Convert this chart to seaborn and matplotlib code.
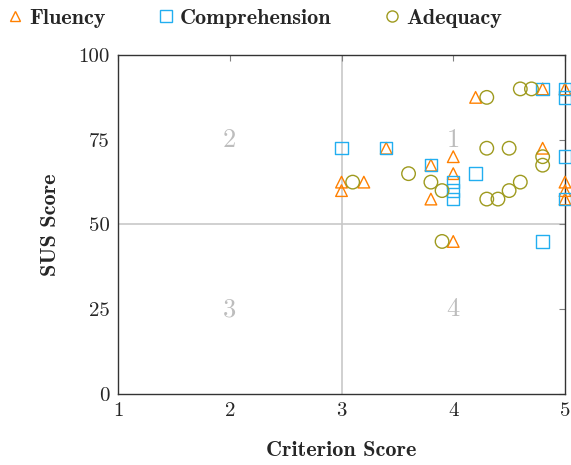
import matplotlib
matplotlib.use("Agg")
import matplotlib.pyplot as plt
from matplotlib.lines import Line2D
import seaborn as sns
import pandas as pd

# Criterion score vs SUS score, one series per criterion
fluency_x = [3.0, 3.0, 3.2, 3.4, 3.8, 3.8, 4.0, 4.0, 4.0, 4.2, 4.8, 4.8, 5.0, 5.0, 5.0, 5.0]
fluency_y = [62.5, 60, 62.5, 72.5, 67.5, 57.5, 70, 65, 45, 87.5, 90, 72.5, 90, 62.5, 60, 57.5]

comprehension_x = [3.0, 3.4, 3.8, 4.0, 4.0, 4.0, 4.2, 4.8, 4.8, 5.0, 5.0, 5.0, 5.0]
comprehension_y = [72.5, 72.5, 67.5, 62.5, 60, 57.5, 65, 90, 45, 90, 87.5, 70, 57.5]

adequacy_x = [3.1, 3.6, 3.8, 3.9, 3.9, 4.3, 4.6, 4.7, 4.3, 4.5, 4.8, 4.8, 4.3, 4.4, 4.5, 4.6]
adequacy_y = [62.5, 65, 62.5, 60, 45, 87.5, 90, 90, 72.5, 72.5, 70, 67.5, 57.5, 57.5, 60, 62.5]

series_names = ["Fluency", "Comprehension", "Adequacy"]
series_colors = ["#ff8000", "#22aef0", "#9e9a1e"]
series_markers = ["^", "s", "o"]

x_ticks = [1, 2, 3, 4, 5]
y_ticks = [0, 25, 50, 75, 100]
quadrants = [("1", 4, 75), ("2", 2, 75), ("3", 2, 25), ("4", 4, 25)]

sns.set_style("white")
plt.rcParams["font.family"] = ["cmr10", "DejaVu Serif"]
plt.rcParams["axes.formatter.use_mathtext"] = True
BOLD = ["cmb10", "DejaVu Serif"]

fig = plt.figure(figsize=(5.71, 4.65), dpi=100)
ax = fig.add_axes([118 / 571, 1 - 394 / 465, 447 / 571, 339 / 465])

# quadrant dividers
ax.axvline(3, color="#c8c8c8", lw=1.2, zorder=0)
ax.axhline(50, color="#c8c8c8", lw=1.2, zorder=0)
for label, qx, qy in quadrants:
    ax.text(qx, qy, label, color="#bdbdbd", fontsize=19, ha="center", va="center",
            family=["cmr10", "DejaVu Serif"], zorder=0)

frames = [
    pd.DataFrame({"x": fluency_x, "y": fluency_y}),
    pd.DataFrame({"x": comprehension_x, "y": comprehension_y}),
    pd.DataFrame({"x": adequacy_x, "y": adequacy_y}),
]
sizes = [70, 80, 95]
for df, name, col, mk, sz in zip(frames, series_names, series_colors, series_markers, sizes):
    sns.scatterplot(data=df, x="x", y="y", ax=ax, marker=mk, s=sz,
                    facecolors="none", edgecolor=col, linewidth=1.0,
                    clip_on=False, zorder=3, legend=False)

ax.set_xlim(1, 5)
ax.set_ylim(0, 100)
ax.set_xticks(x_ticks)
ax.set_yticks(y_ticks)
ax.set_xticklabels([str(v) for v in x_ticks])
ax.set_yticklabels([str(v) for v in y_ticks])
ax.tick_params(direction="in", length=4, width=0.8, color="#808080",
               top=True, right=True, labelsize=15, pad=6)
for s in ax.spines.values():
    s.set_visible(True)
    s.set_color("#333333")
    s.set_linewidth(1.0)

ax.set_xlabel("Criterion Score", family=BOLD, fontsize=16, labelpad=15)
ax.set_ylabel("SUS Score", family=BOLD, fontsize=16, labelpad=13)

handles = [Line2D([], [], linestyle="none", marker=m, markerfacecolor="none",
                  markeredgecolor=c, markersize=ms, markeredgewidth=1.0)
           for m, c, ms in zip(series_markers, series_colors, [7, 8, 8])]
leg = fig.legend(handles, series_names, loc="center", bbox_to_anchor=(254 / 571, 1 - 18 / 465),
                 ncol=3, frameon=False, handletextpad=0.25, columnspacing=2.3,
                 handlelength=0.8, borderpad=0, prop={"family": BOLD, "size": 16})

fig.savefig("out.png", dpi=100)
